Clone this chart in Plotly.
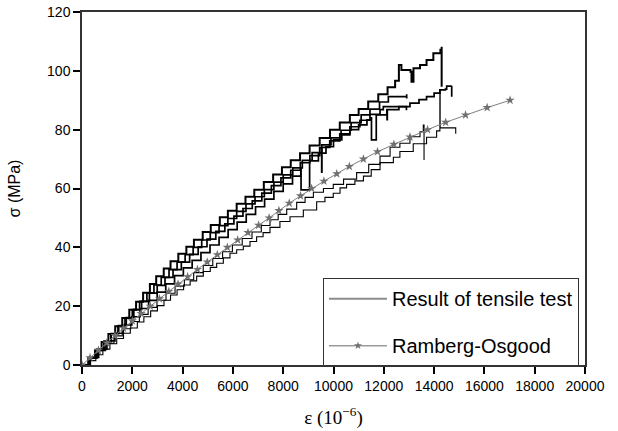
import plotly.graph_objects as go

# ---------------- data ----------------
# Ramberg-Osgood model curve
ro_strain = [0, 320, 650, 980, 1310, 1650, 2000, 2350, 2710, 3080, 3450, 3820, 4200,
             4590, 4980, 5380, 5780, 6190, 6600, 7020, 7440, 7830, 8240, 8690, 9130,
             9620, 10130, 10630, 11190, 11750, 12400, 13040, 13740, 14460, 15250,
             16110, 17020]
ro_stress = [0, 2.5, 5, 7.5, 10, 12.5, 15, 17.5, 20, 22.5, 25, 27.5, 30, 32.5, 35, 37.5,
             40, 42.5, 45, 47.5, 50, 52.5, 55, 57.5, 60, 62.5, 65, 67.5, 70, 72.5, 75,
             77.5, 80, 82.5, 85, 87.5, 90]

# tensile test specimens (stepped recordings)
a_strain = [0, 250, 520, 780, 1050, 1320, 1600, 1880, 2150, 2430, 2700, 2950, 3250, 3520,
            3830, 4150, 4450, 4800, 5120, 5480, 5800, 6150, 6500, 6850, 7230, 7600, 7950,
            8300, 8670, 9050, 9450, 9860, 10250, 10650, 11000, 11380, 11780, 12150, 12450,
            12600, 12700, 13060, 13100, 13180, 13440, 13700, 13970, 14250, 14300, 14300]
a_stress = [0, 2.5, 5, 7.8, 10.5, 13.2, 16, 18.8, 21.5, 24.6, 27.5, 30.2, 32.8, 35.3,
            37.8, 40.2, 42.6, 45.2, 47.6, 50.2, 52.4, 54.8, 57.2, 59.6, 62.2, 64.8, 67.2,
            69.6, 72, 74.6, 77.2, 80, 82.4, 85, 87, 89.6, 92, 94.4, 96.6,
            102, 100.3, 99.7, 96.3, 100.9, 102, 103.7, 106, 107.2, 108.2, 94.6]

a2_strain = [0, 320, 600, 880, 1150, 1430, 1710, 2000, 2290, 2580, 2860, 3150, 3460, 3780,
             4100, 4420, 4760, 5100, 5450, 5800, 6150, 6520, 6880, 7250, 7630, 8000, 8380,
             8760, 9150, 9530, 9900, 10300, 10700, 11100, 11450, 11830, 12180, 12910, 12910]
a2_stress = [0, 2.5, 5.2, 8, 10.6, 13.3, 16, 18.8, 21.6, 24.5, 27.2, 29.8, 32.4, 35,
             37.5, 40, 42.5, 45, 47.4, 49.8, 52.2, 54.8, 57.2, 59.6, 62.2, 64.6, 67,
             69.6, 72.2, 74.8, 77.2, 79.8, 82.4, 85, 87, 89.4, 91.2, 92, 90.6]

a3_strain = [0, 290, 580, 870, 1160, 1460, 1760, 2060, 2370, 2680, 2990, 3300, 3620, 3950,
             4280, 4620, 4970, 5320, 5680, 6040, 6400, 6770, 7150, 7530, 7910, 8300, 8680,
             9060, 9450, 9530, 9540, 9850, 10250, 10650, 11050, 11450, 11850, 11980, 12900,
             12900]
a3_stress = [0, 2.6, 5.3, 8, 10.7, 13.4, 16.1, 18.8, 21.6, 24.4, 27.1, 29.8, 32.4, 35,
             37.6, 40.2, 42.8, 45.4, 48, 50.6, 53.2, 55.8, 58.4, 61, 63.6, 66.2, 68.8,
             71.2, 73.8, 65.6, 74, 76.2, 78.6, 81, 83.2, 85.2, 86.8, 87.8, 87.8, 86.6]

b_strain = [0, 330, 660, 990, 1310, 1640, 1980, 2310, 2650, 2990, 3330, 3680, 4030, 4380,
            4730, 5090, 5450, 5810, 6170, 6530, 6900, 7260, 7630, 8000, 8370, 8700, 8710,
            9050, 9400, 9700, 10000, 10330, 10650, 11000, 11330, 11500, 11510, 11700, 12120,
            12130, 12140, 12600, 13040, 13400, 13700, 14000, 14230, 14450, 14500, 14700, 14700]
b_stress = [0, 2.6, 5.4, 8.2, 10.8, 13.6, 16.4, 19.2, 22, 24.8, 27.6, 30.4, 33, 35.6,
            38.2, 40.8, 43.4, 46, 48.6, 51.2, 53.8, 56.4, 59, 61.6, 64.2, 67, 59.5,
            69.4, 72, 74.2, 76.5, 78.2, 80, 81.6, 83.3, 84, 76.5, 85, 86.7,
            83.4, 86.8, 87.8, 89, 90.2, 91.2, 92.4, 93.5, 93.8, 94.8, 94.9, 91.2]

c_strain = [0, 300, 620, 940, 1270, 1600, 1940, 2280, 2630, 2980, 3340, 3700, 4070, 4440,
            4820, 5200, 5590, 5980, 6370, 6760, 7130, 7475, 7800, 8140, 8536, 8870, 9200,
            9600, 9990, 10400, 10920, 11400, 11850, 12250, 12640, 13040, 13440, 13570, 13600]
c_stress = [0, 2.4, 4.9, 7.4, 9.9, 12.3, 14.8, 17.2, 19.6, 22, 24.4, 26.8, 29, 31.4,
            33.8, 36.2, 38.5, 40.8, 43, 45.2, 47.4, 49.4, 51.2, 53, 55.3, 57, 58.7,
            60, 61.4, 63.2, 65.4, 68.2, 71, 74, 75.4, 77.6, 79.3, 81.6, 69.7]

d_strain = [0, 250, 550, 830, 1110, 1380, 1650, 1920, 2200, 2460, 2730, 3000, 3260, 3520,
            3780, 4040, 4300, 4560, 4823, 5100, 5355, 5620, 5884, 6150, 6413, 6680, 6943,
            7200, 7475, 7870, 8270, 8800, 9330, 9660, 9990, 10260, 10520, 10850, 11190,
            11500, 11850, 12380, 12640, 13170, 13700, 14100, 14230, 14230, 14240, 14860,
            14860]
d_stress = [0, 1.5, 3.5, 5.4, 7.2, 9, 10.8, 12.6, 14.6, 16.4, 18.4, 20.2, 22, 23.8,
            25.6, 27.2, 28.6, 30.2, 31.8, 33.2, 34.6, 36.4, 38, 39.2, 40.4, 42, 43.6,
            45, 46.8, 48.8, 50.4, 52.7, 55.5, 57, 58.4, 60.2, 61.4, 62.6, 64.2,
            66.4, 68.8, 70.6, 72.6, 75.2, 77.4, 79.6, 80, 93, 80.6, 80.6, 78.6]

x_ticks = [0, 2000, 4000, 6000, 8000, 10000, 12000, 14000, 16000, 18000, 20000]
x_tick_labels = ["0", "2000", "4000", "6000", "8000", "10000", "12000", "14000",
                 "16000", "18000", "20000"]
y_ticks = [0, 20, 40, 60, 80, 100, 120]
y_tick_labels = ["0", "20", "40", "60", "80", "100", "120"]

legend_test = "Result of tensile test"
legend_ro = "Ramberg-Osgood"

# ---------------- figure ----------------
SANS = "Liberation Sans, Arial, sans-serif"
SERIF = "Liberation Serif, Times New Roman, serif"

fig = go.Figure()

tests = [(a_strain, a_stress, 2.0), (a2_strain, a2_stress, 1.7),
         (a3_strain, a3_stress, 1.7), (b_strain, b_stress, 1.7),
         (c_strain, c_stress, 1.1), (d_strain, d_stress, 1.1)]
for xs, ys, w in tests:
    fig.add_trace(go.Scatter(x=xs, y=ys, mode="lines", line_shape="hv",
                             line=dict(color="black", width=w),
                             showlegend=False, hoverinfo="skip"))

fig.add_trace(go.Scatter(x=ro_strain, y=ro_stress, mode="lines+markers",
                         line=dict(color="#808080", width=1),
                         marker=dict(symbol="star", size=7, color="#707070"),
                         showlegend=False, hoverinfo="skip"))

# legend entries
fig.add_trace(go.Scatter(x=[None], y=[None], mode="lines", name=legend_test,
                         line=dict(color="#8c8c8c", width=2), legendgroup="t"))
fig.add_trace(go.Scatter(x=[None], y=[None], mode="lines+markers", name=legend_ro,
                         line=dict(color="#9a9a9a", width=1.5),
                         marker=dict(symbol="star", size=6, color="#707070"),
                         legendgroup="r"))

axis_font = dict(family=SANS, size=14, color="black")

fig.update_layout(
    width=618, height=431,
    margin=dict(l=82, r=33, t=12, b=66, autoexpand=False),
    paper_bgcolor="white", plot_bgcolor="white",
    showlegend=True,
    legend=dict(x=0.988, y=0.246, xanchor="right", yanchor="top",
                bgcolor="white", bordercolor="#333333", borderwidth=1,
                font=dict(family=SANS, size=20, color="black"),
                itemwidth=58, tracegroupgap=18, traceorder="grouped"),
    xaxis=dict(range=[0, 20000], tickvals=x_ticks, ticktext=x_tick_labels,
               ticks="outside", ticklen=7, automargin=False,
               tickwidth=1.5, tickcolor="black", showgrid=False, zeroline=False,
               showline=True, linecolor="#333333", linewidth=1.5, mirror=True,
               tickfont=axis_font,
               title=dict(text="ε (10<sup>−6</sup>)", standoff=18,
                          font=dict(family=SERIF, size=19, color="black"))),
    yaxis=dict(range=[0, 120], tickvals=y_ticks, ticktext=y_tick_labels,
               ticks="outside", ticklen=7, automargin=False,
               tickwidth=1.5, tickcolor="black", showgrid=False, zeroline=False,
               showline=True, linecolor="#333333", linewidth=1.5, mirror=True,
               tickfont=axis_font,
               title=dict(text="σ (MPa)", standoff=22,
                          font=dict(family=SANS, size=16, color="black"))),
)

fig.write_html("out.html")
